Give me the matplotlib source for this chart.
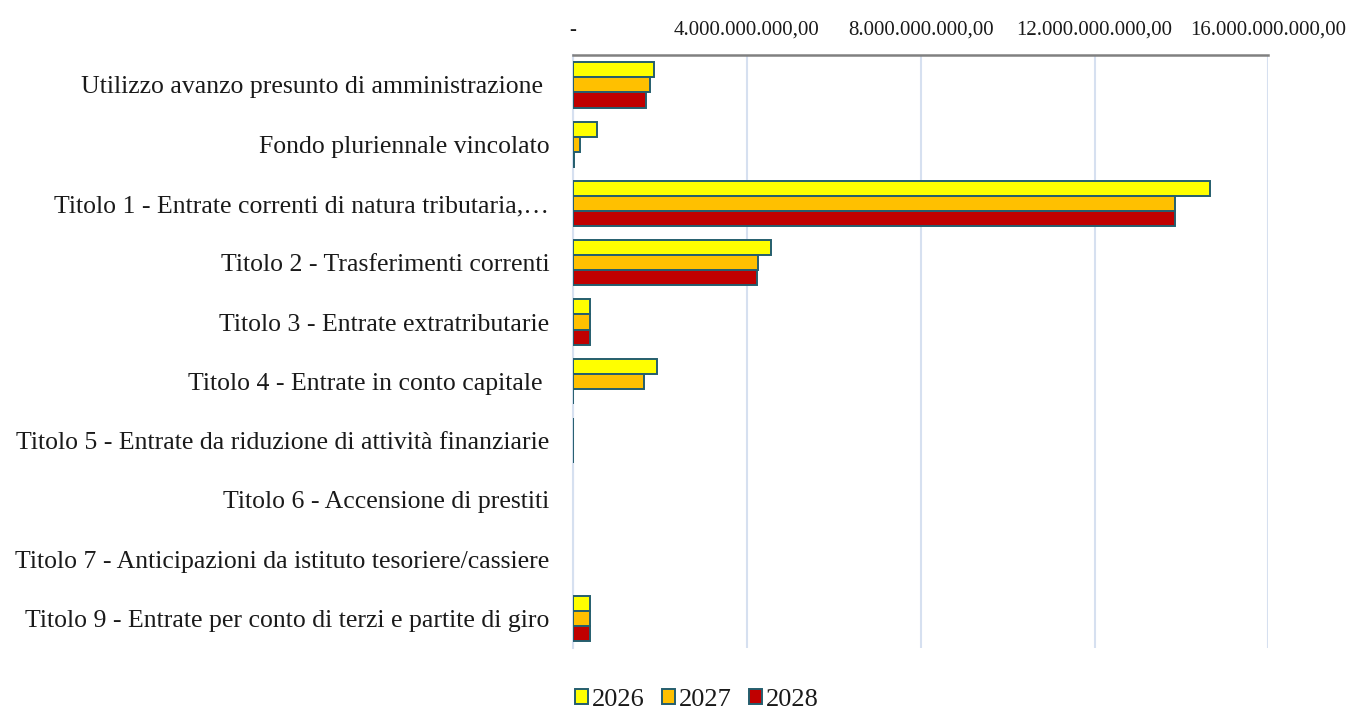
import matplotlib
matplotlib.use("Agg")
import matplotlib.pyplot as plt
import numpy as np
from matplotlib.ticker import FuncFormatter

categories = [
    "Utilizzo avanzo presunto di amministrazione ",
    "Fondo pluriennale vincolato",
    "Titolo 1 - Entrate correnti di natura tributaria,…",
    "Titolo 2 - Trasferimenti correnti",
    "Titolo 3 - Entrate extratributarie",
    "Titolo 4 - Entrate in conto capitale ",
    "Titolo 5 - Entrate da riduzione di attività finanziarie",
    "Titolo 6 - Accensione di prestiti",
    "Titolo 7 - Anticipazioni da istituto tesoriere/cassiere",
    "Titolo 9 - Entrate per conto di terzi e partite di giro",
]
series_names = ["2026", "2027", "2028"]
v2026 = [1.87e9, 0.55e9, 14.66e9, 4.55e9, 0.39e9, 1.94e9, 0.005e9, 0.0, 0.0, 0.39e9]
v2027 = [1.78e9, 0.16e9, 13.85e9, 4.25e9, 0.39e9, 1.64e9, 0.005e9, 0.0, 0.0, 0.39e9]
v2028 = [1.69e9, 0.02e9, 13.85e9, 4.23e9, 0.39e9, 0.01e9, 0.005e9, 0.0, 0.0, 0.39e9]
xticks = [0, 4e9, 8e9, 12e9, 16e9]

plt.rcParams['font.family'] = ['Liberation Serif', 'DejaVu Serif']

fig = plt.figure(figsize=(13.48, 7.09), dpi=100)
ax = fig.add_axes([0.425, 0.086, 0.516, 0.836])

colors = ["#FFFF00", "#FFC000", "#C00000"]
edge = "#255E6E"
n = len(categories)
y = np.arange(n)
h = 0.255
for i, (vals, c, name) in enumerate(zip([v2026, v2027, v2028], colors, series_names)):
    vals = np.array(vals)
    ecs = [edge if v > 0 else 'none' for v in vals]
    ax.barh(y + (i - 1) * h, vals, height=h, color=c, edgecolor=ecs, linewidth=1.4, label=name, zorder=3)

ax.set_yticks(y)
ax.set_yticklabels(categories, fontsize=18.5, color="#1a1a1a")
ax.set_ylim(n - 0.5, -0.5)
ax.set_xlim(0, 16e9)
ax.set_xticks(xticks)

def fmt(v, pos):
    if v == 0:
        return "-"
    s = f"{v:,.2f}"
    return s.replace(",", "X").replace(".", ",").replace("X", ".")

ax.xaxis.set_major_formatter(FuncFormatter(fmt))
ax.xaxis.tick_top()
ax.tick_params(axis='x', length=0, labelsize=15, pad=11, labelcolor="#1a1a1a")
ax.tick_params(axis='y', length=0, pad=17)
ax.grid(axis='x', color="#D6E0F0", linewidth=1.5, zorder=0)
for s in ['right', 'bottom']:
    ax.spines[s].set_visible(False)
ax.spines['top'].set_color("#808080")
ax.spines['top'].set_linewidth(1.8)
ax.spines['left'].set_color("#D6E0F0")
ax.spines['left'].set_linewidth(1.5)

handles, labels = ax.get_legend_handles_labels()
leg = fig.legend(handles, labels, loc='center', bbox_to_anchor=(0.517, 0.013), ncol=3, frameon=False,
                 fontsize=19, handlelength=0.5, handleheight=0.5, handletextpad=0.15,
                 columnspacing=0.65)
for t in leg.get_texts():
    t.set_color("#1a1a1a")
fig.savefig("out.png", dpi=100)
